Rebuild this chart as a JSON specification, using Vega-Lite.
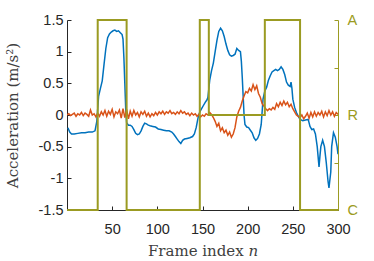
{
  "$schema": "https://vega.github.io/schema/vega-lite/v6.json",
  "width": 271,
  "height": 190,
  "autosize": {"type": "none"},
  "padding": {"left": 67, "top": 20, "right": 36, "bottom": 51},
  "background": "white",
  "config": {
    "view": {"stroke": null},
    "axis": {"grid": false, "labelFont": "Liberation Sans", "labelFontSize": 14.5, "titleFont": "DejaVu Serif", "titleFontSize": 15, "titleFontWeight": "normal"}
  },
  "datasets": {
    "blue": [
      {"n":1,"v":-0.20},{"n":3,"v":-0.27},{"n":5,"v":-0.30},{"n":8,"v":-0.30},{"n":12,"v":-0.29},{"n":16,"v":-0.28},{"n":20,"v":-0.28},{"n":24,"v":-0.27},{"n":28,"v":-0.27},{"n":31,"v":-0.25},{"n":33,"v":-0.10},{"n":34,"v":0.10},{"n":35,"v":0.30},{"n":37,"v":0.42},{"n":39,"v":0.54},{"n":41,"v":0.80},{"n":43,"v":1.05},{"n":45,"v":1.22},{"n":47,"v":1.28},{"n":49,"v":1.31},{"n":51,"v":1.33},{"n":53,"v":1.34},{"n":55,"v":1.32},{"n":57,"v":1.33},{"n":59,"v":1.30},{"n":61,"v":1.27},{"n":62,"v":1.20},{"n":63,"v":0.90},{"n":64,"v":0.50},{"n":65,"v":0.10},{"n":66,"v":-0.12},{"n":68,"v":-0.16},{"n":70,"v":-0.16},{"n":72,"v":-0.18},{"n":74,"v":-0.23},{"n":76,"v":-0.29},{"n":78,"v":-0.31},{"n":80,"v":-0.30},{"n":82,"v":-0.25},{"n":84,"v":-0.18},{"n":86,"v":-0.13},{"n":88,"v":-0.14},{"n":90,"v":-0.16},{"n":92,"v":-0.17},{"n":95,"v":-0.18},{"n":98,"v":-0.19},{"n":101,"v":-0.22},{"n":104,"v":-0.23},{"n":107,"v":-0.24},{"n":110,"v":-0.25},{"n":113,"v":-0.25},{"n":116,"v":-0.27},{"n":118,"v":-0.30},{"n":120,"v":-0.34},{"n":122,"v":-0.38},{"n":124,"v":-0.42},{"n":126,"v":-0.45},{"n":128,"v":-0.40},{"n":130,"v":-0.38},{"n":133,"v":-0.37},{"n":136,"v":-0.36},{"n":139,"v":-0.34},{"n":141,"v":-0.30},{"n":143,"v":-0.20},{"n":145,"v":-0.05},{"n":147,"v":0.05},{"n":149,"v":0.10},{"n":151,"v":0.15},{"n":153,"v":0.20},{"n":155,"v":0.24},{"n":156,"v":0.28},{"n":158,"v":0.55},{"n":160,"v":0.70},{"n":162,"v":0.82},{"n":164,"v":1.00},{"n":166,"v":1.18},{"n":168,"v":1.32},{"n":170,"v":1.37},{"n":172,"v":1.33},{"n":174,"v":1.24},{"n":176,"v":1.12},{"n":178,"v":1.02},{"n":180,"v":0.95},{"n":182,"v":0.93},{"n":184,"v":0.94},{"n":186,"v":0.96},{"n":188,"v":1.05},{"n":190,"v":1.02},{"n":192,"v":1.00},{"n":193,"v":0.85},{"n":194,"v":0.60},{"n":195,"v":0.30},{"n":196,"v":0.00},{"n":197,"v":-0.15},{"n":199,"v":-0.19},{"n":201,"v":-0.20},{"n":203,"v":-0.24},{"n":205,"v":-0.28},{"n":207,"v":-0.36},{"n":209,"v":-0.40},{"n":211,"v":-0.37},{"n":213,"v":-0.30},{"n":215,"v":-0.15},{"n":216,"v":0.05},{"n":217,"v":0.25},{"n":219,"v":0.38},{"n":221,"v":0.44},{"n":223,"v":0.55},{"n":225,"v":0.62},{"n":227,"v":0.68},{"n":229,"v":0.70},{"n":231,"v":0.72},{"n":233,"v":0.70},{"n":235,"v":0.72},{"n":237,"v":0.76},{"n":239,"v":0.72},{"n":241,"v":0.64},{"n":243,"v":0.52},{"n":245,"v":0.47},{"n":247,"v":0.45},{"n":248,"v":0.52},{"n":249,"v":0.42},{"n":250,"v":0.25},{"n":252,"v":0.12},{"n":254,"v":0.04},{"n":256,"v":-0.02},{"n":258,"v":-0.07},{"n":261,"v":-0.09},{"n":264,"v":-0.08},{"n":267,"v":-0.07},{"n":269,"v":-0.18},{"n":271,"v":-0.23},{"n":273,"v":-0.22},{"n":275,"v":-0.30},{"n":277,"v":-0.50},{"n":279,"v":-0.82},{"n":280,"v":-0.65},{"n":281,"v":-0.50},{"n":283,"v":-0.40},{"n":285,"v":-0.50},{"n":287,"v":-0.75},{"n":289,"v":-1.05},{"n":290,"v":-1.15},{"n":292,"v":-0.90},{"n":293,"v":-0.50},{"n":295,"v":-0.28},{"n":297,"v":-0.35},{"n":299,"v":-0.50},{"n":300,"v":-0.62}
    ],
    "orange": [
      {"n":0,"v":0.00},{"n":2,"v":0.02},{"n":4,"v":-0.01},{"n":6,"v":0.01},{"n":8,"v":0.03},{"n":10,"v":-0.02},{"n":12,"v":0.02},{"n":14,"v":0.00},{"n":16,"v":0.04},{"n":18,"v":-0.01},{"n":20,"v":0.03},{"n":22,"v":0.01},{"n":24,"v":-0.02},{"n":26,"v":0.08},{"n":28,"v":0.00},{"n":30,"v":0.02},{"n":32,"v":-0.03},{"n":34,"v":0.03},{"n":36,"v":-0.02},{"n":38,"v":0.05},{"n":40,"v":0.00},{"n":42,"v":0.07},{"n":44,"v":-0.02},{"n":46,"v":0.06},{"n":48,"v":0.01},{"n":50,"v":0.09},{"n":52,"v":-0.03},{"n":54,"v":0.05},{"n":56,"v":0.02},{"n":58,"v":0.08},{"n":60,"v":-0.05},{"n":62,"v":0.10},{"n":64,"v":-0.04},{"n":66,"v":0.09},{"n":68,"v":-0.06},{"n":70,"v":0.06},{"n":72,"v":-0.02},{"n":74,"v":0.07},{"n":76,"v":0.00},{"n":78,"v":0.04},{"n":80,"v":-0.03},{"n":82,"v":0.05},{"n":84,"v":0.01},{"n":86,"v":0.06},{"n":88,"v":-0.02},{"n":90,"v":0.03},{"n":92,"v":-0.03},{"n":94,"v":0.02},{"n":96,"v":-0.01},{"n":98,"v":0.04},{"n":100,"v":0.00},{"n":102,"v":0.05},{"n":104,"v":0.02},{"n":106,"v":0.06},{"n":108,"v":0.01},{"n":110,"v":0.05},{"n":112,"v":0.03},{"n":114,"v":0.07},{"n":116,"v":0.02},{"n":118,"v":0.04},{"n":120,"v":0.01},{"n":122,"v":0.05},{"n":124,"v":0.02},{"n":126,"v":0.07},{"n":128,"v":0.03},{"n":130,"v":0.05},{"n":132,"v":0.01},{"n":134,"v":0.03},{"n":136,"v":-0.01},{"n":138,"v":0.03},{"n":140,"v":0.00},{"n":142,"v":0.02},{"n":144,"v":-0.02},{"n":146,"v":0.01},{"n":148,"v":-0.03},{"n":150,"v":0.00},{"n":152,"v":-0.02},{"n":154,"v":0.02},{"n":156,"v":0.00},{"n":158,"v":0.04},{"n":160,"v":0.01},{"n":162,"v":-0.04},{"n":164,"v":-0.10},{"n":166,"v":-0.18},{"n":168,"v":-0.13},{"n":170,"v":-0.25},{"n":172,"v":-0.20},{"n":174,"v":-0.28},{"n":176,"v":-0.24},{"n":178,"v":-0.32},{"n":180,"v":-0.27},{"n":182,"v":-0.35},{"n":184,"v":-0.30},{"n":186,"v":-0.20},{"n":188,"v":-0.03},{"n":190,"v":0.06},{"n":192,"v":0.12},{"n":194,"v":0.22},{"n":196,"v":0.30},{"n":198,"v":0.37},{"n":200,"v":0.35},{"n":202,"v":0.42},{"n":204,"v":0.38},{"n":206,"v":0.48},{"n":208,"v":0.40},{"n":210,"v":0.46},{"n":212,"v":0.34},{"n":214,"v":0.28},{"n":216,"v":0.18},{"n":218,"v":0.14},{"n":220,"v":0.10},{"n":222,"v":0.07},{"n":224,"v":0.10},{"n":226,"v":0.08},{"n":228,"v":0.12},{"n":230,"v":0.09},{"n":232,"v":0.18},{"n":234,"v":0.13},{"n":236,"v":0.20},{"n":238,"v":0.15},{"n":240,"v":0.22},{"n":242,"v":0.16},{"n":244,"v":0.20},{"n":246,"v":0.13},{"n":248,"v":0.17},{"n":250,"v":0.10},{"n":252,"v":0.05},{"n":254,"v":0.00},{"n":256,"v":-0.02},{"n":258,"v":-0.04},{"n":260,"v":0.00},{"n":262,"v":-0.06},{"n":264,"v":-0.02},{"n":266,"v":0.03},{"n":268,"v":-0.05},{"n":270,"v":0.04},{"n":272,"v":-0.03},{"n":274,"v":0.05},{"n":276,"v":-0.02},{"n":278,"v":0.04},{"n":280,"v":0.00},{"n":282,"v":0.06},{"n":284,"v":-0.03},{"n":286,"v":0.05},{"n":288,"v":-0.01},{"n":290,"v":0.07},{"n":292,"v":0.00},{"n":294,"v":0.05},{"n":296,"v":-0.02},{"n":298,"v":0.04},{"n":300,"v":0.01}
    ],
    "state": [
      {"i":0,"n":0,"s":0},{"i":1,"n":34,"s":0},{"i":2,"n":34,"s":4},{"i":3,"n":66,"s":4},{"i":4,"n":66,"s":0},{"i":5,"n":147,"s":0},{"i":6,"n":147,"s":4},{"i":7,"n":157,"s":4},{"i":8,"n":157,"s":2},{"i":9,"n":219,"s":2},{"i":10,"n":219,"s":4},{"i":11,"n":258,"s":4},{"i":12,"n":258,"s":0},{"i":13,"n":300,"s":0}
    ]
  },
  "layer": [
    {
      "data": {"name": "blue"},
      "mark": {"type": "line", "color": "#0072BD", "strokeWidth": 1.5, "clip": true},
      "encoding": {
        "x": {"field": "n", "type": "quantitative", "scale": {"domain": [0, 300], "nice": false, "zero": false},
          "axis": {"values": [50, 100, 150, 200, 250, 300], "title": "Frame index 𝑛", "tickSize": -4, "labelPadding": 16, "domainColor": "#262626", "tickColor": "#262626", "labelColor": "#262626", "titleColor": "#404040", "titlePadding": 8, "labelFlush": false}},
        "y": {"field": "v", "type": "quantitative", "scale": {"domain": [-1.5, 1.5], "nice": false},
          "axis": {"values": [-1.5, -1, -0.5, 0, 0.5, 1, 1.5], "labelExpr": "'' + datum.value", "title": "Acceleration (m/s²)", "tickSize": -4, "labelPadding": 8, "domainColor": "#262626", "tickColor": "#262626", "labelColor": "#262626", "titleColor": "#404040", "titlePadding": 18, "labelFlush": false}}
      }
    },
    {
      "data": {"name": "orange"},
      "mark": {"type": "line", "color": "#D95319", "strokeWidth": 1.5, "clip": true},
      "encoding": {
        "x": {"field": "n", "type": "quantitative", "scale": {"domain": [0, 300], "nice": false, "zero": false}},
        "y": {"field": "v", "type": "quantitative", "scale": {"domain": [-1.5, 1.5], "nice": false}, "axis": null}
      }
    },
    {
      "data": {"name": "state"},
      "mark": {"type": "line", "color": "#9b9b22", "strokeWidth": 2},
      "encoding": {
        "x": {"field": "n", "type": "quantitative", "scale": {"domain": [0, 300], "nice": false, "zero": false}},
        "y": {"field": "s", "type": "quantitative", "scale": {"domain": [0, 4], "nice": false},
          "axis": {"orient": "right", "values": [0, 1, 2, 3, 4], "title": null, "tickSize": -4, "labelPadding": 13, "domainColor": "#9b9b22", "tickColor": "#9b9b22", "labelColor": "#9b9b22", "labelFlush": false,
            "labelExpr": "datum.value == 0 ? 'C' : datum.value == 2 ? 'R' : datum.value == 4 ? 'A' : ''"}},
        "order": {"field": "i", "type": "quantitative"}
      }
    }
  ],
  "resolve": {"scale": {"y": "independent"}}
}
